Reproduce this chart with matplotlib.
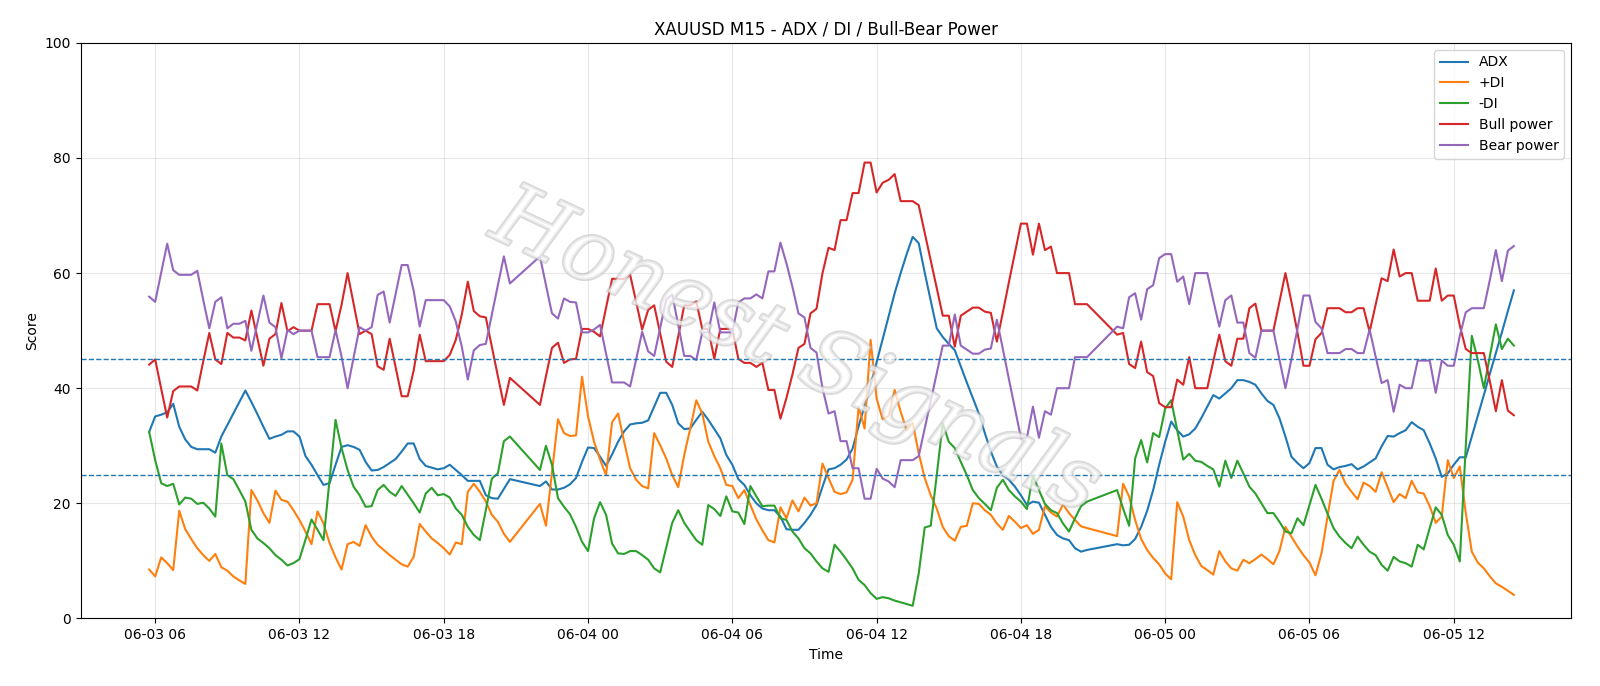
import matplotlib
matplotlib.use("Agg")
import matplotlib.pyplot as plt
import matplotlib.dates as mdates
import matplotlib.patheffects as pe
import pandas as pd

# M15 bars, 06-03 05:45 .. 06-05 14:30, daily break 21:00-21:45 has no bars
all_times = pd.date_range("2025-06-03 05:45", "2025-06-05 14:30", freq="15min")
times = all_times[all_times.hour != 21]

adx = [
    32.4, 35.1, 35.4, 35.8, 37.3, 33.3, 31.1, 29.8, 29.4, 29.4,
    29.4, 28.8, 31.6, 33.6, 35.6, 37.6, 39.6, 37.6, 35.5, 33.3,
    31.2, 31.6, 31.9, 32.5, 32.5, 31.6, 28.2, 26.7, 24.9, 23.2,
    23.5, 26.7, 29.8, 30.1, 29.8, 29.3, 27.2, 25.7, 25.8, 26.3,
    27.0, 27.7, 29.0, 30.4, 30.4, 27.7, 26.5, 26.2, 25.9, 26.1,
    26.7, 25.8, 24.9, 23.9, 23.9, 23.9, 21.4, 20.9, 20.8, 22.5, 24.2,
    23.0, 23.8, 22.4, 22.4, 22.7,
    23.3, 24.4, 27.2, 29.7, 29.6, 28.1, 26.5, 28.5, 30.7, 32.5,
    33.7, 33.9, 34.0, 34.4, 36.8, 39.2, 39.2, 37.1, 33.9, 32.9,
    33.0, 34.5, 35.9, 34.5, 32.9, 31.3, 28.4, 26.7, 24.2, 23.2,
    21.4, 20.0, 19.1, 18.8, 18.8, 17.7, 15.5, 15.4, 15.4, 16.6,
    18.0, 19.7, 22.9, 25.9, 26.1, 26.7, 27.6, 29.5, 33.4, 36.9,
    40.5, 44.5, 48.5, 52.5, 56.5, 60.0, 63.3, 66.3, 65.2, 60.1,
    55.2, 50.4, 48.9, 47.7, 46.6, 43.8, 41.0, 38.3, 35.6, 32.2,
    29.0, 26.4, 24.9, 24.1, 22.9, 21.4, 19.7, 20.3, 20.1, 18.0,
    15.9, 14.5, 13.9, 13.6, 12.2, 11.6, 11.9,
    12.9, 12.7, 12.8, 13.8, 15.9, 18.7, 22.3, 26.7, 30.7,
    34.2, 32.7, 31.6, 32.0, 33.0, 34.8, 36.8, 38.8, 38.2, 39.1,
    40.0, 41.4, 41.4, 41.1, 40.6, 39.1, 37.8, 37.1, 34.8, 31.6,
    28.1, 27.0, 26.1, 27.0, 29.6, 29.6, 26.7, 25.9, 26.3, 26.5,
    26.8, 25.9, 26.4, 27.1, 27.8, 29.9, 31.7, 31.6, 32.2, 32.7,
    34.1, 33.3, 32.7, 30.4, 27.8, 24.6, 25.2, 26.7, 28.0, 28.0,
    31.6, 35.2, 38.8, 42.5, 46.1, 49.7, 53.4, 57.0,
]

plus_di = [
    8.5, 7.3, 10.6, 9.6, 8.4, 18.7, 15.5, 13.8, 12.2, 11.0,
    10.0, 11.2, 8.9, 8.3, 7.3, 6.6, 6.0, 22.3, 20.5, 18.3,
    16.6, 22.2, 20.6, 20.3, 18.8, 17.1, 15.1, 12.9, 18.6, 16.5,
    13.1, 10.6, 8.5, 12.9, 13.3, 12.6, 16.2, 14.2, 12.8, 11.9,
    11.0, 10.2, 9.4, 9.0, 10.7, 16.4, 15.1, 13.9, 13.1, 12.2,
    11.1, 13.2, 12.9, 22.0, 23.4, 22.0, 20.3, 18.0, 16.8, 14.7, 13.3,
    19.9, 16.1, 25.3, 34.6, 32.2,
    31.7, 31.8, 42.0, 35.1, 30.7, 27.6, 24.9, 34.1, 35.6, 30.7,
    26.1, 24.1, 23.0, 22.6, 32.2, 30.1, 27.8, 24.9, 22.8, 28.4,
    33.0, 37.9, 35.6, 30.7, 28.2, 26.1, 23.2, 23.0, 20.9, 22.3,
    19.7, 17.2, 15.3, 13.6, 13.2, 19.3, 17.4, 20.5, 18.6, 21.0,
    19.6, 20.0, 26.9, 24.4, 22.0, 21.6, 21.9, 24.1, 36.8, 33.0,
    48.4, 38.2, 34.6, 35.2, 39.7, 35.9, 32.7, 34.0, 28.7, 24.4,
    21.4, 19.1, 15.9, 14.3, 13.5, 15.9, 16.1, 20.0, 19.9, 18.8,
    18.0, 16.5, 15.4, 17.8, 16.8, 15.7, 16.2, 14.7, 15.4, 19.5,
    18.4, 17.7, 19.8, 18.3, 17.1, 16.0, 15.7,
    14.3, 23.4, 21.2, 17.1, 13.8, 11.9, 10.5, 9.4, 7.8,
    6.8, 20.2, 17.7, 13.6, 11.0, 9.1, 8.4, 7.6, 11.7, 9.9,
    8.7, 8.3, 10.2, 9.6, 10.3, 11.1, 10.3, 9.4, 11.7, 15.9,
    14.2, 12.5, 11.0, 9.7, 7.5, 11.3, 17.7, 23.9, 25.8, 23.4,
    22.0, 20.7, 23.6, 23.0, 22.0, 25.4, 22.8, 20.2, 21.6, 20.9,
    23.9, 21.9, 21.7, 19.5, 16.6, 17.7, 27.5, 24.4, 26.4, 18.3,
    11.6, 9.7, 8.7, 7.3, 6.1, 5.5, 4.8, 4.1,
]

minus_di = [
    32.4, 27.5, 23.5, 23.0, 23.4, 19.8, 21.0, 20.8, 19.9, 20.1,
    19.1, 17.7, 30.4, 24.9, 24.2, 22.3, 20.3, 15.4, 13.9, 13.1,
    12.2, 11.0, 10.2, 9.2, 9.6, 10.3, 13.7, 17.2, 15.4, 13.6,
    24.1, 34.5, 29.6, 25.8, 22.9, 21.4, 19.4, 19.5, 22.3, 23.2,
    22.0, 21.3, 23.0, 21.5, 20.0, 18.4, 21.7, 22.7, 21.4, 21.6,
    21.0, 19.1, 18.0, 15.9, 14.5, 13.6, 18.8, 24.3, 25.2, 30.8, 31.6,
    25.8, 30.0, 26.7, 20.9, 19.4,
    18.1, 15.9, 13.3, 11.7, 17.4, 20.2, 18.0, 13.0, 11.3, 11.2,
    11.7, 11.7, 11.0, 10.2, 8.7, 8.0, 12.3, 16.6, 18.8, 16.6,
    15.1, 13.6, 12.8, 19.7, 19.0, 17.8, 21.2, 18.6, 18.4, 16.4,
    23.0, 21.2, 19.5, 19.6, 19.6, 17.4, 17.1, 15.1, 13.9, 12.2,
    11.3, 9.9, 8.7, 8.1, 12.8, 11.6, 10.2, 8.7, 6.7, 5.8,
    4.4, 3.4, 3.7, 3.5, 3.1, 2.8, 2.5, 2.2, 7.8, 15.8,
    16.1, 24.9, 33.9, 30.7, 29.6, 27.2, 24.9, 22.3, 20.9, 19.9,
    18.8, 22.7, 24.1, 22.3, 21.2, 20.3, 19.0, 24.8, 22.3, 19.9,
    18.8, 18.3, 16.5, 15.1, 17.4, 19.5, 20.3,
    22.3, 19.1, 16.1, 27.8, 31.0, 27.1, 32.2, 31.5, 36.5,
    37.9, 32.7, 27.6, 28.6, 27.4, 27.2, 26.5, 25.9, 22.9, 27.4,
    24.4, 27.4, 25.2, 22.9, 21.7, 20.0, 18.3, 18.3, 16.8, 15.1,
    14.8, 17.4, 16.2, 19.7, 23.2, 20.8, 18.2, 15.7, 14.2, 13.1,
    12.2, 14.2, 12.8, 11.6, 11.0, 9.3, 8.3, 10.7, 9.9, 9.6,
    9.0, 12.8, 12.0, 15.7, 19.3, 18.0, 14.5, 12.8, 9.9, 30.0,
    49.1, 44.9, 40.0, 45.5, 51.1, 46.8, 48.6, 47.4,
]

bull_power = [
    44.1, 45.0, 39.9, 34.9, 39.5, 40.3, 40.3, 40.3, 39.6, 44.7,
    49.6, 45.0, 44.2, 49.6, 48.8, 48.8, 48.3, 53.5, 48.7, 43.9,
    48.6, 49.4, 54.8, 49.9, 50.6, 50.0, 50.0, 50.0, 54.6, 54.6,
    54.6, 49.9, 54.5, 60.0, 54.7, 49.4, 50.0, 49.4, 43.8, 43.2,
    48.6, 43.6, 38.6, 38.6, 43.1, 49.3, 44.7, 44.7, 44.7, 44.7,
    45.8, 48.4, 52.8, 58.5, 53.4, 52.5, 52.3, 47.2, 42.1, 37.1, 41.8,
    37.1, 42.1, 47.0, 47.9, 44.4,
    45.0, 45.1, 50.3, 50.3, 49.8, 49.0, 54.0, 59.0, 59.0, 59.0,
    59.7, 55.0, 50.2, 53.6, 54.4, 49.5, 44.6, 43.7, 49.0, 54.4,
    54.4, 55.1, 50.3, 50.3, 45.1, 50.3, 50.3, 50.3, 45.1, 44.4,
    44.4, 43.7, 44.4, 39.7, 39.7, 34.7, 38.3, 42.4, 47.0, 47.7,
    53.0, 53.8, 60.0, 64.4, 64.0, 69.2, 69.2, 73.9, 73.9, 79.2,
    79.2, 74.0, 75.7, 76.2, 77.2, 72.5, 72.5, 72.5, 71.8, 67.0,
    62.2, 57.4, 52.6, 52.6, 47.2, 52.6, 53.3, 54.0, 54.0, 53.3,
    53.1, 48.1, 53.2, 58.4, 63.5, 68.6, 68.6, 63.2, 68.6, 64.0,
    64.6, 60.0, 60.0, 60.0, 54.6, 54.6, 54.6,
    49.3, 49.6, 44.2, 43.5, 48.1, 42.8, 42.1, 37.4, 36.7,
    36.7, 41.5, 40.6, 45.4, 40.0, 40.0, 40.0, 44.7, 49.3, 44.7,
    43.9, 48.6, 48.6, 53.9, 54.7, 50.0, 50.0, 50.0, 55.0, 60.0,
    55.0, 49.7, 43.9, 43.9, 48.5, 49.6, 53.9, 53.9, 53.9, 53.2,
    53.2, 53.9, 53.9, 49.8, 54.5, 59.1, 58.6, 64.1, 59.4, 60.0,
    60.0, 55.2, 55.2, 55.2, 60.8, 55.2, 56.1, 56.1, 50.9, 46.8,
    46.1, 46.1, 46.1, 41.2, 36.0, 41.4, 36.1, 35.3,
]

bear_power = [
    55.9, 55.0, 60.1, 65.1, 60.5, 59.7, 59.7, 59.7, 60.4, 55.3,
    50.4, 55.0, 55.8, 50.4, 51.2, 51.2, 51.7, 46.5, 51.3, 56.1,
    51.4, 50.6, 45.2, 50.1, 49.4, 50.0, 50.0, 50.0, 45.4, 45.4,
    45.4, 50.1, 45.5, 40.0, 45.3, 50.6, 50.0, 50.6, 56.2, 56.8,
    51.4, 56.4, 61.4, 61.4, 56.9, 50.7, 55.3, 55.3, 55.3, 55.3,
    54.2, 51.6, 47.2, 41.5, 46.6, 47.5, 47.7, 52.8, 57.9, 62.9, 58.2,
    62.9, 57.9, 53.0, 52.1, 55.6,
    55.0, 54.9, 49.7, 49.7, 50.2, 51.0, 46.0, 41.0, 41.0, 41.0,
    40.3, 45.0, 49.8, 46.4, 45.6, 50.5, 55.4, 56.3, 51.0, 45.6,
    45.6, 44.9, 49.7, 49.7, 54.9, 49.7, 49.7, 49.7, 54.9, 55.6,
    55.6, 56.3, 55.6, 60.3, 60.3, 65.3, 61.7, 57.6, 53.0, 52.3,
    47.0, 46.2, 40.0, 35.6, 36.0, 30.8, 30.8, 26.1, 26.1, 20.8,
    20.8, 26.0, 24.3, 23.8, 22.8, 27.5, 27.5, 27.5, 28.2, 33.0,
    37.8, 42.6, 47.4, 47.4, 52.8, 47.4, 46.7, 46.0, 46.0, 46.7,
    46.9, 51.9, 46.8, 41.6, 36.5, 31.4, 31.4, 36.8, 31.4, 36.0,
    35.4, 40.0, 40.0, 40.0, 45.4, 45.4, 45.4,
    50.7, 50.4, 55.8, 56.5, 51.9, 57.2, 57.9, 62.6, 63.3,
    63.3, 58.5, 59.4, 54.6, 60.0, 60.0, 60.0, 55.3, 50.7, 55.3,
    56.1, 51.4, 51.4, 46.1, 45.3, 50.0, 50.0, 50.0, 45.0, 40.0,
    45.0, 50.3, 56.1, 56.1, 51.5, 50.4, 46.1, 46.1, 46.1, 46.8,
    46.8, 46.1, 46.1, 50.2, 45.5, 40.9, 41.4, 35.9, 40.6, 40.0,
    40.0, 44.8, 44.8, 44.8, 39.2, 44.8, 43.9, 43.9, 49.1, 53.2,
    53.9, 53.9, 53.9, 58.8, 64.0, 58.6, 63.9, 64.7,
]

series = [
    ("ADX", adx),
    ("+DI", plus_di),
    ("-DI", minus_di),
    ("Bull power", bull_power),
    ("Bear power", bear_power),
]

fig = plt.figure(figsize=(16, 6.86), dpi=100)
ax = fig.add_axes([0.0504, 0.0985, 0.9316, 0.839])

for label, values in series:
    assert len(values) == len(times), (label, len(values), len(times))
    ax.plot(times, values, label=label, linewidth=1.5)

ax.axhline(25, color="C0", linestyle="--", linewidth=1.0)
ax.axhline(45, color="C0", linestyle="--", linewidth=1.0)

ax.set_xlim(pd.Timestamp("2025-06-03 02:54"), pd.Timestamp("2025-06-05 16:53"))
ax.set_ylim(0, 100)
ax.set_title("XAUUSD M15 - ADX / DI / Bull-Bear Power")
ax.set_xlabel("Time")
ax.set_ylabel("Score")
ax.grid(True, alpha=0.3)
ax.xaxis.set_major_locator(mdates.HourLocator(byhour=[0, 6, 12, 18]))
ax.xaxis.set_major_formatter(mdates.DateFormatter("%m-%d %H"))
ax.legend(loc="upper right")

# watermark
ax.text(0.48, 0.46, "Honest Signals", transform=ax.transAxes,
        rotation=-25, fontsize=62, color="white", alpha=0.5,
        ha="center", va="center", style="italic", family="DejaVu Serif",
        path_effects=[pe.withStroke(linewidth=2.5, foreground="#b4b4b4")])

fig.savefig("out.png", dpi=100)
